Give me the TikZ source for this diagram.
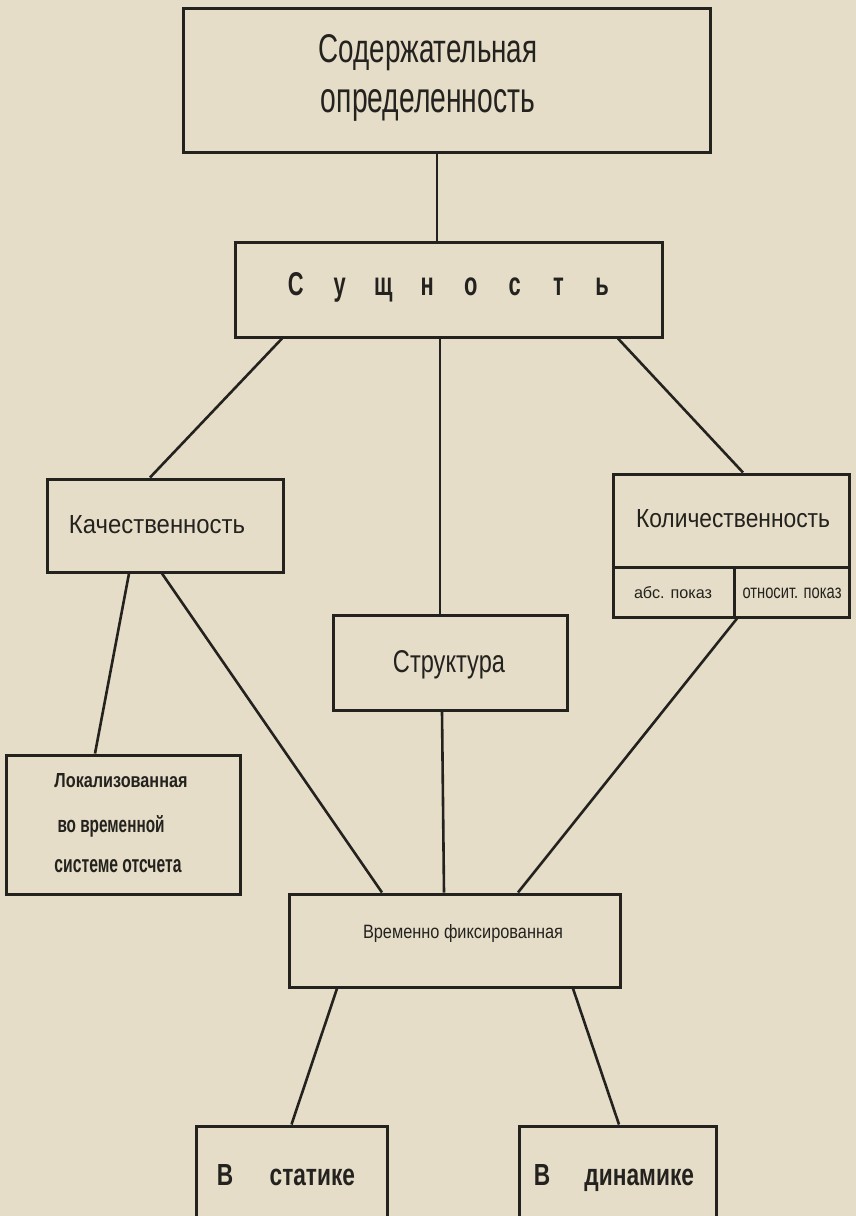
\documentclass[tikz,border=0pt]{standalone}
\usepackage{fontspec}
\usepackage{graphicx}
\setmainfont{Liberation Sans}
\definecolor{paper}{RGB}{229,221,200}
\definecolor{ink}{RGB}{36,34,30}
\newcommand\rb[3]{\resizebox{#1pt}{#2pt}{#3}}
\newcommand\lt[1]{\makebox[2em]{#1}}
\begin{document}
\begin{tikzpicture}[x=1pt,y=-1pt,
  box/.style={draw=ink, line width=3pt, inner sep=0pt},
  txt/.style={inner sep=0pt, anchor=base, text=ink},
  conn/.style={draw=ink, line width=2.6pt}]
\useasboundingbox (0,0) rectangle (856,1216);
\fill[paper] (0,0) rectangle (856,1216);
\clip (0,0) rectangle (856,1216);
% boxes
\node[box, minimum width=527pt, minimum height=144pt] (top) at (446.5,80) {};
\node[box, minimum width=427pt, minimum height=95pt] (sush) at (448.5,289.5) {};
\node[box, minimum width=236pt, minimum height=93pt] (kach) at (165,525.5) {};
\node[box, minimum width=236pt, minimum height=93pt] (kol) at (731,520.5) {};
\node[box, minimum width=121pt, minimum height=50pt] (kolL) at (673.5,592) {};
\node[box, minimum width=115pt, minimum height=50pt] (kolR) at (791.5,592) {};
\node[box, minimum width=234pt, minimum height=95pt] (str) at (450,662.5) {};
\node[box, minimum width=234pt, minimum height=139pt] (lok) at (123,824.5) {};
\node[box, minimum width=331pt, minimum height=93pt] (vrem) at (454.5,940.5) {};
\node[box, minimum width=191pt, minimum height=114pt] (stat) at (291.5,1183) {};
\node[box, minimum width=197pt, minimum height=114pt] (dyn) at (617.5,1183) {};
% texts
\node[txt] (t1) at (428,62) {\rb{219}{28}{Содержательная}};
\node[txt] (t2) at (428,112) {\rb{214}{23}{определенность}};
\node[txt] (t3) at (449,295) {\rb{350}{23}{\bfseries\lt{С}\lt{у}\lt{щ}\lt{н}\lt{о}\lt{с}\lt{т}\lt{ь}}};
\node[txt] (t4) at (157,533) {\rb{176}{18}{Качественность}};
\node[txt] (t5) at (733,527) {\rb{194}{18}{Количественность}};
\node[txt] (t6) at (673,598) {\rb{78}{12}{абс. показ}};
\node[txt] (t7) at (792,598) {\rb{99}{10.5}{относит. показ}};
\node[txt] (t8) at (449,672) {\rb{112}{22}{Структура}};
\node[txt] (t9) at (121,787) {\rb{133}{14}{\bfseries Локализованная}};
\node[txt] (t10) at (111,832) {\rb{107}{17}{\bfseries во временной}};
\node[txt] (t11) at (118,872) {\rb{127}{13}{\bfseries системе отсчета}};
\node[txt] (t12) at (463,938) {\rb{200}{14}{Временно фиксированная}};
\node[txt] (t13) at (286,1185) {\rb{138}{21}{\bfseries В\hspace{1.6em}статике}};
\node[txt] (t14) at (614,1185) {\rb{160}{21}{\bfseries В\hspace{1.5em}динамике}};
% connectors
\draw[conn] ([xshift=-9.5pt]top.south) -- ([xshift=-11.5pt]sush.north);
\draw[conn] ([xshift=-166.5pt]sush.south) -- ([xshift=-15pt]kach.north);
\draw[conn] ([xshift=-8.5pt]sush.south) -- ([xshift=-10pt]str.north);
\draw[conn] ([xshift=169.5pt]sush.south) -- ([xshift=12pt]kol.north);
\draw[conn] ([xshift=-36pt]kach.south) -- ([xshift=-28pt]lok.north);
\draw[conn] ([xshift=-3pt]kach.south) -- ([xshift=-72.5pt]vrem.north);
\draw[conn] ([xshift=-8pt]str.south) -- ([xshift=-10.5pt]vrem.north);
\draw[conn] ([xshift=-54.5pt]kolR.south) -- ([xshift=63.5pt]vrem.north);
\draw[conn] ([xshift=-117.5pt]vrem.south) -- ([xshift=0pt]stat.north);
\draw[conn] ([xshift=118.5pt]vrem.south) -- ([xshift=1.5pt]dyn.north);
\end{tikzpicture}
\end{document}
